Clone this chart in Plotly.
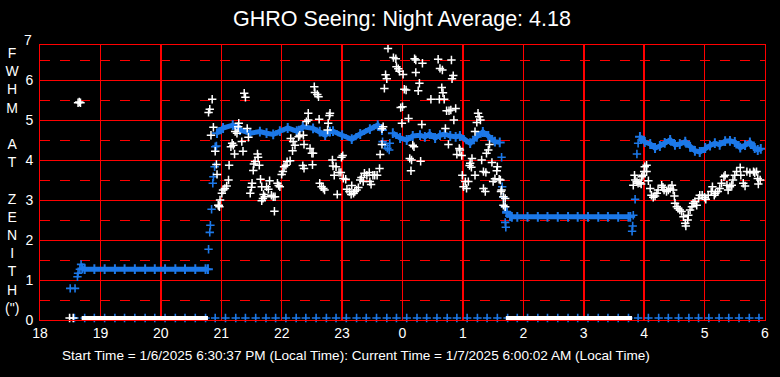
import plotly.graph_objects as go

# ---------------- data ----------------
x_tickvals = [18, 19, 20, 21, 22, 23, 24, 25, 26, 27, 28, 29, 30]
x_ticktext = ["18", "19", "20", "21", "22", "23", "0", "1", "2", "3", "4", "5", "6"]
y_tickvals = [0, 1, 2, 3, 4, 5, 6]

# FWHM seeing samples (hours since midnight of start day, arcsec)
white_x = [18.63, 18.65, 18.67, 20.79, 20.81, 20.85, 20.87, 20.83, 20.90, 20.92,
           20.93, 20.95, 20.96, 20.97, 20.98, 21.01, 21.03, 21.06, 21.09, 21.12,
           21.13, 21.16, 21.18, 21.20, 21.22, 21.23, 21.26, 21.28, 21.29, 21.34,
           21.36, 21.38, 21.40, 21.43, 21.45, 21.48, 21.50, 21.51, 21.53, 21.54,
           21.56, 21.60, 21.61, 21.63, 21.65, 21.67, 21.67, 21.69, 21.70, 21.72,
           21.75, 21.78, 21.80, 21.83, 21.86, 21.88, 21.89, 21.93, 21.95, 21.97,
           22.00, 22.02, 22.04, 22.07, 22.09, 22.14, 22.15, 22.18, 22.19, 22.22,
           22.28, 22.30, 22.35, 22.36, 22.37, 22.37, 22.41, 22.44, 22.44, 22.47,
           22.50, 22.51, 22.52, 22.54, 22.55, 22.59, 22.61, 22.62, 22.63, 22.66,
           22.69, 22.71, 22.76, 22.77, 22.79, 22.80, 22.84, 22.85, 22.87, 22.90,
           22.92, 22.95, 22.98, 22.99, 23.01, 23.02, 23.06, 23.08, 23.12, 23.15,
           23.16, 23.19, 23.21, 23.24, 23.27, 23.30, 23.32, 23.35, 23.37, 23.41,
           23.45, 23.46, 23.48, 23.51, 23.54, 23.58, 23.62, 23.63, 23.66, 23.66,
           23.68, 23.70, 23.72, 23.74, 23.76, 23.79, 23.86, 23.85, 23.89, 23.90,
           23.93, 23.95, 23.97, 23.99, 24.00, 24.01, 24.03, 24.06, 24.10, 24.12,
           24.14, 24.15, 24.17, 24.19, 24.20, 24.22, 24.22, 24.26, 24.28, 24.30,
           24.32, 24.33, 24.37, 24.44, 24.47, 24.51, 24.54, 24.59, 24.61, 24.62,
           24.65, 24.66, 24.67, 24.69, 24.71, 24.73, 24.76, 24.77, 24.80, 24.81,
           24.82, 24.84, 24.85, 24.88, 24.90, 24.94, 24.95, 24.98, 24.99, 25.01,
           25.04, 25.06, 25.09, 25.11, 25.12, 25.14, 25.15, 25.20, 25.20, 25.23,
           25.25, 25.27, 25.29, 25.31, 25.34, 25.34, 25.37, 25.38, 25.39, 25.42,
           25.44, 25.48, 25.50, 25.53, 25.56, 25.57, 25.60, 25.62, 25.63, 25.64,
           25.67, 25.67, 25.70, 25.70,
           27.84, 27.82, 27.85, 27.88, 27.90, 27.93, 27.95, 27.96, 27.98, 28.00,
           28.01, 28.04, 28.04, 28.07, 28.10, 28.12, 28.15, 28.18, 28.21, 28.23,
           28.29, 28.31, 28.33, 28.37, 28.40, 28.43, 28.46, 28.48, 28.50, 28.51,
           28.54, 28.56, 28.59, 28.62, 28.65, 28.68, 28.69, 28.72, 28.73, 28.76,
           28.79, 28.81, 28.84, 28.87, 28.90, 28.92, 28.96, 29.00, 29.02, 29.06,
           29.11, 29.13, 29.16, 29.18, 29.22, 29.25, 29.28, 29.32, 29.34, 29.37,
           29.39, 29.42, 29.45, 29.47, 29.50, 29.53, 29.59, 29.60, 29.64, 29.67,
           29.70, 29.75, 29.81, 29.83, 29.86, 29.88, 29.89, 29.92]
white_y = [5.43, 5.45, 5.43, 5.19, 5.27, 5.52, 4.82, 4.62, 4.22, 3.89,
           3.64, 2.87, 2.86, 2.83, 3.00, 3.17, 3.25, 3.29, 3.35, 3.50,
           3.87, 4.33, 4.42, 4.37, 4.15, 4.71, 4.67, 4.83, 4.92, 4.46,
           4.22, 5.67, 5.57, 4.79, 4.57, 3.17, 3.32, 3.42, 3.74, 3.90,
           3.96, 4.15, 4.07, 3.87, 3.52, 3.33, 2.98, 3.04, 3.14, 3.08,
           3.33, 3.27, 3.48, 3.12, 3.08, 2.72, 3.08, 3.42, 3.36, 3.33,
           3.64, 3.71, 3.83, 3.87, 3.96, 3.98, 4.54, 4.23, 4.46, 4.37,
           4.58, 4.62, 3.86, 4.62, 3.79, 4.39, 4.96, 5.17, 5.00, 4.29,
           4.17, 3.88, 4.17, 5.83, 5.69, 5.64, 5.58, 5.02, 3.42, 3.33,
           3.29, 3.25, 4.75, 4.92, 5.11, 5.17, 4.00, 3.85, 3.62, 3.83,
           3.14, 3.69, 3.69, 4.07, 4.11, 3.54, 3.52, 3.27, 3.21, 3.14,
           3.36, 3.17, 3.21, 3.25, 3.31, 3.50, 3.56, 3.46, 3.67, 3.62,
           3.69, 3.46, 3.39, 3.62, 3.62, 3.62, 3.79, 4.14, 4.39, 4.78,
           4.83, 5.79, 6.13, 6.03, 6.79, 6.95, 6.95, 6.56, 6.53, 6.33,
           6.28, 6.22, 5.31, 4.92, 5.33, 6.14, 5.77, 5.75, 5.04, 4.04,
           3.73, 4.00, 4.37, 4.33, 6.53, 6.50, 6.19, 5.73, 5.92, 3.97,
           4.89, 6.42, 6.95, 6.95, 5.52, 6.95, 6.95, 6.52, 5.52, 6.29,
           5.81, 6.25, 5.68, 5.52, 4.79, 5.23, 4.39, 5.23, 5.25, 6.50,
           6.03, 6.11, 5.00, 5.29, 4.14, 4.29, 4.25, 4.11, 3.62, 3.33,
           3.46, 3.29, 3.46, 3.86, 3.92, 3.82, 4.04, 4.71, 3.62, 4.94,
           5.17, 5.08, 5.00, 4.00, 3.71, 3.29, 3.21, 3.69, 4.17, 4.25,
           4.39, 3.94, 3.46, 3.53, 3.73, 3.83, 3.52, 3.50, 3.21, 3.25,
           3.08, 2.87, 3.04, 2.83,
           3.62, 3.37, 3.50, 3.46, 3.42, 3.43, 3.40, 3.58, 3.62, 3.71,
           3.83, 3.87, 3.71, 3.48, 3.29, 3.12, 3.07, 3.10, 3.17, 3.25,
           3.37, 3.32, 3.25, 3.21, 3.25, 3.29, 3.37, 3.25, 3.10, 2.92,
           2.83, 2.79, 2.75, 2.71, 2.58, 2.42, 2.35, 2.50, 2.62, 2.75,
           2.83, 2.92, 2.96, 2.87, 3.04, 3.12, 3.12, 3.07, 3.02, 3.12,
           3.21, 3.33, 3.12, 3.17, 3.21, 3.29, 3.42, 3.58, 3.62, 3.37,
           3.25, 3.33, 3.37, 3.50, 3.62, 3.71, 3.81, 3.62, 3.42, 3.35,
           3.71, 3.68, 3.71, 3.68, 3.71, 3.54, 3.40, 3.50]

# blue running-average series: dense runs (None separates runs)
blue_run_x = [18.70, 18.74, 18.90, 19.07, 19.24, 19.40, 19.57, 19.74, 19.90, 20.07,
              20.24, 20.40, 20.57, 20.74, 20.78, None,
              20.93, 21.03, 21.19, 21.31, 21.48, 21.64, 21.75, 21.86, 21.97, 22.10,
              22.25, 22.35, 22.52, 22.63, 22.72, 22.80, 22.85, 23.00, 23.16, 23.30,
              23.46, 23.59, 23.66, None,
              23.84, 23.96, 24.07, 24.17, 24.29, 24.37, 24.45, 24.54, 24.62, 24.70,
              24.79, 24.88, 24.95, 25.12, 25.23, 25.33, 25.42, 25.53, 25.61, None,
              25.73, 25.78, 25.81, 25.90, 26.07, 26.24, 26.40, 26.57, 26.74, 26.90,
              27.07, 27.24, 27.40, 27.57, 27.74, 27.77, None,
              27.93, 28.01, 28.10, 28.18, 28.26, 28.34, 28.43, 28.51, 28.59, 28.68,
              28.76, 28.84, 28.92, 29.01, 29.09, 29.17, 29.25, 29.34, 29.42, 29.50,
              29.59, 29.67, 29.75, 29.83, 29.88, 29.93]
blue_run_y = [1.29, 1.27, 1.27, 1.27, 1.27, 1.27, 1.27, 1.27, 1.27, 1.27,
              1.27, 1.27, 1.27, 1.27, 1.27, None,
              4.67, 4.80, 4.87, 4.75, 4.67, 4.71, 4.67, 4.64, 4.72, 4.80,
              4.72, 4.83, 4.79, 4.71, 4.62, 4.71, 4.72, 4.62, 4.52, 4.65,
              4.77, 4.87, 4.75, None,
              4.67, 4.55, 4.50, 4.60, 4.62, 4.58, 4.65, 4.55, 4.62, 4.65,
              4.60, 4.58, 4.60, 4.42, 4.58, 4.70, 4.60, 4.46, 4.44, None,
              2.68, 2.60, 2.58, 2.58, 2.58, 2.58, 2.58, 2.58, 2.58, 2.58,
              2.58, 2.58, 2.58, 2.58, 2.58, 2.58, None,
              4.58, 4.45, 4.40, 4.30, 4.35, 4.43, 4.50, 4.38, 4.40, 4.46,
              4.33, 4.23, 4.20, 4.30, 4.36, 4.42, 4.38, 4.47, 4.48, 4.45,
              4.31, 4.37, 4.44, 4.30, 4.25, 4.28]

# blue isolated samples (transitions)
blue_pt_x = [18.50, 18.58, 18.62, 18.63, 18.66, 18.68,
             20.79, 20.81, 20.82, 20.84, 20.86, 20.87, 20.89, 20.90, 20.92,
             23.67, 23.71, 23.75, 23.78, 23.79,
             25.64, 25.65, 25.67, 25.69, 25.72, 25.70, 25.71,
             27.80, 27.81, 27.82, 27.85, 27.88, 27.90]
blue_pt_y = [0.79, 0.79, 1.08, 1.17, 1.27, 1.39,
             1.77, 2.19, 2.37, 2.77, 3.42, 3.58, 3.83, 4.33, 4.35,
             4.46, 4.37, 4.29, 4.25, 4.42,
             4.07, 3.33, 3.07, 2.83, 2.71, 2.44, 2.32,
             2.22, 2.35, 2.62, 3.02, 4.15, 4.42]

# zero-level (no measurement) samples
zero_blue_x = [18.57, 18.74, 18.90, 19.07, 19.24, 19.40, 19.57, 19.74, 19.90, 20.07,
               20.24, 20.40, 20.57, 20.74, 20.90, 21.07, 21.24, 21.40, 21.57, 21.74,
               21.90, 22.07, 22.24, 22.40, 22.57, 22.74, 22.90, 23.07, 23.24, 23.40,
               23.57, 23.74, 23.90, 24.07, 24.24, 24.40, 24.57, 24.74, 24.90, 25.07,
               25.24, 25.40, 25.57, 25.74, 25.90, 26.07, 26.24, 26.40, 26.57, 26.74,
               26.90, 27.07, 27.24, 27.40, 27.57, 27.74, 27.90, 28.07, 28.24, 28.40,
               28.57, 28.74, 28.90, 29.07, 29.24, 29.40, 29.57, 29.74, 29.90]
zero_level = 0.05
zero_white_runs_x = [18.69, 20.78, None, 25.71, 27.80]
zero_white_pts_x = [18.49, 18.55]

title_text = "GHRO Seeing: Night Average: 4.18"
footer_text = "Start Time = 1/6/2025 6:30:37 PM (Local Time): Current Time = 1/7/2025 6:00:02 AM (Local Time)"
ylabel_letters = ["F", "W", "H", "M", "", "A", "T", "", "Z", "E", "N", "I", "T", "H", "(\")"]

# ---------------- figure ----------------
BLUE = "#1c78e8"
RED = "#ff0000"
FONT = "Liberation Sans, Arial, sans-serif"

fig = go.Figure()

# zero-level blue markers
fig.add_trace(go.Scatter(
    x=zero_blue_x, y=[zero_level] * len(zero_blue_x), mode="markers",
    marker=dict(symbol="cross-thin", size=6, line=dict(width=1.6, color=BLUE)),
    cliponaxis=False, hoverinfo="skip"))

# blue running average: dense runs
fig.add_trace(go.Scatter(
    x=blue_run_x, y=blue_run_y, mode="lines+markers",
    line=dict(color=BLUE, width=5),
    marker=dict(symbol="cross-thin", size=7, line=dict(width=2, color=BLUE)),
    cliponaxis=False, hoverinfo="skip"))

# blue isolated points
fig.add_trace(go.Scatter(
    x=blue_pt_x, y=blue_pt_y, mode="markers",
    marker=dict(symbol="cross-thin", size=6, line=dict(width=1.6, color=BLUE)),
    cliponaxis=False, hoverinfo="skip"))

# zero-level white runs
fig.add_trace(go.Scatter(
    x=zero_white_runs_x, y=[zero_level if v is not None else None for v in zero_white_runs_x],
    mode="lines", line=dict(color="white", width=4),
    cliponaxis=False, hoverinfo="skip"))
fig.add_trace(go.Scatter(
    x=zero_white_pts_x, y=[zero_level] * len(zero_white_pts_x), mode="markers",
    marker=dict(symbol="cross-thin", size=6, line=dict(width=1.6, color="white")),
    cliponaxis=False, hoverinfo="skip"))

# white seeing samples
fig.add_trace(go.Scatter(
    x=white_x, y=white_y, mode="markers",
    marker=dict(symbol="cross-thin", size=6, line=dict(width=1.5, color="white")),
    cliponaxis=False, hoverinfo="skip"))

annotations = [
    dict(text="7", xref="paper", yref="paper", x=-6 / 725, y=(320 - 40) / 275,
         xanchor="right", yanchor="middle", showarrow=False,
         font=dict(family=FONT, size=14, color="white")),
    dict(text="<br>".join(l if l else " " for l in ylabel_letters),
         xref="paper", yref="paper", x=(12.5 - 40) / 725, y=(320 - 180) / 275,
         xanchor="center", yanchor="middle", showarrow=False, align="center",
         font=dict(family=FONT, size=14, color="white")),
    dict(text=footer_text, xref="paper", yref="paper", x=(356 - 40) / 725,
         y=(320 - 355) / 275, xanchor="center", yanchor="middle", showarrow=False,
         font=dict(family=FONT, size=13.6, color="white")),
]

fig.update_layout(
    width=780, height=377,
    margin=dict(l=40, r=15, t=45, b=57),
    paper_bgcolor="black", plot_bgcolor="black",
    showlegend=False,
    hovermode=False,
    title=dict(text=title_text, x=402 / 780, xanchor="center", xref="container",
               y=1 - 18 / 377, yanchor="middle", yref="container",
               font=dict(family=FONT, size=21.5, color="white")),
    annotations=annotations,
    xaxis=dict(range=[18, 30], tickvals=x_tickvals, ticktext=x_ticktext,
               showgrid=True, gridcolor=RED, gridwidth=1.5,
               showline=True, linecolor=RED, linewidth=1, mirror=True,
               zeroline=False, ticks="", ticklen=0,
               tickfont=dict(family=FONT, size=14, color="white")),
    yaxis=dict(range=[0, 6.875], tickvals=y_tickvals,
               showgrid=True, gridcolor=RED, gridwidth=1,
               showline=True, linecolor=RED, linewidth=1, mirror=True,
               zeroline=False, ticks="outside", ticklen=3, tickcolor="rgba(0,0,0,0)",
               tickfont=dict(family=FONT, size=14, color="white"),
               minor=dict(dtick=0.5, tick0=0, showgrid=True, gridcolor=RED,
                          gridwidth=1, griddash="10px,10px", ticks="")),
)

fig.write_html("out.html",
               config={"displayModeBar": False, "staticPlot": True},
               post_script="document.body.style.margin='0';document.body.style.background='black';")
